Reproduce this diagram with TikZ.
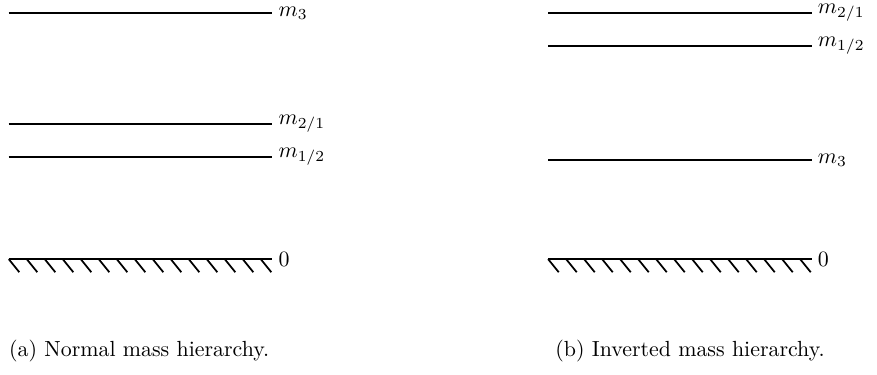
\documentclass[tikz,border=0pt]{standalone}
\usetikzlibrary{positioning}

\begin{document}
\begin{tikzpicture}[
  level/.style={draw,thick},
  hatch/.style={draw,thick},
  mlbl/.style={inner sep=2.5pt,anchor=west},
  capt/.style={anchor=west,inner sep=0pt},
]
  \useasboundingbox (0,0) rectangle (14.08,6.02);

  % (a) normal ordering
  \coordinate (a3l) at (0.14,5.81);  \coordinate (a3r) at (4.37,5.81);
  \coordinate (a2l) at (0.14,4.03);  \coordinate (a2r) at (4.37,4.03);
  \coordinate (a1l) at (0.14,3.50);  \coordinate (a1r) at (4.37,3.50);
  \coordinate (a0l) at (0.14,1.86);  \coordinate (a0r) at (4.37,1.86);
  \draw[level] (a3l) -- (a3r) node[mlbl] (am3) {$m_3$};
  \draw[level] (a2l) -- (a2r) node[mlbl] (am2) {$m_{2/1}$};
  \draw[level] (a1l) -- (a1r) node[mlbl] (am1) {$m_{1/2}$};
  \draw[level] (a0l) -- (a0r) node[mlbl] (am0) {$0$};
  \foreach \i in {0,...,14}
    \draw[hatch] (0.14+\i*0.289,1.86) -- ++(0.17,-0.21);
  \node[capt] (capa) at (0.14,0.39) {(a) Normal mass hierarchy.};

  % (b) inverted ordering
  \coordinate (b2l) at (8.80,5.81);  \coordinate (b2r) at (13.03,5.81);
  \coordinate (b1l) at (8.80,5.28);  \coordinate (b1r) at (13.03,5.28);
  \coordinate (b3l) at (8.80,3.45);  \coordinate (b3r) at (13.03,3.45);
  \coordinate (b0l) at (8.80,1.86);  \coordinate (b0r) at (13.03,1.86);
  \draw[level] (b2l) -- (b2r) node[mlbl] (bm2) {$m_{2/1}$};
  \draw[level] (b1l) -- (b1r) node[mlbl] (bm1) {$m_{1/2}$};
  \draw[level] (b3l) -- (b3r) node[mlbl] (bm3) {$m_3$};
  \draw[level] (b0l) -- (b0r) node[mlbl] (bm0) {$0$};
  \foreach \i in {0,...,14}
    \draw[hatch] (8.80+\i*0.289,1.86) -- ++(0.17,-0.21);
  \node[capt] (capb) at (8.91,0.39) {(b) Inverted mass hierarchy.};
\end{tikzpicture}
\end{document}
